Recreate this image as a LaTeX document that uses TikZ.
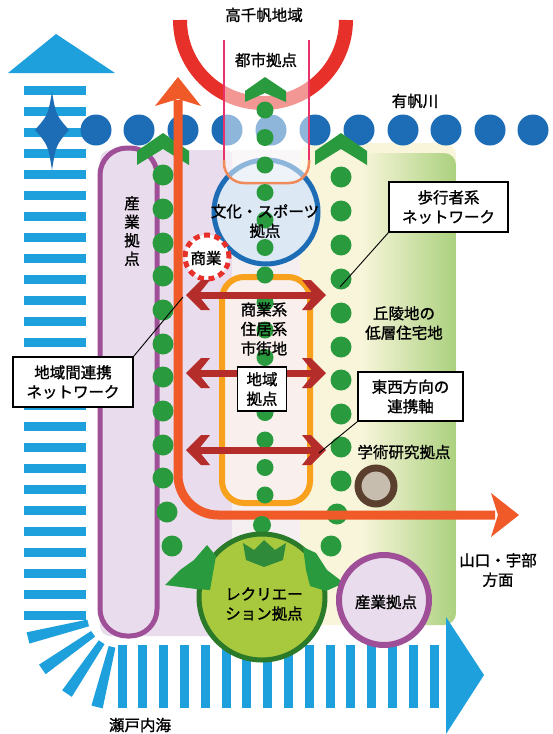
\documentclass[tikz,border=0pt]{standalone}
\usepackage{fontspec}
\setmainfont{Noto Sans CJK JP}
\newfontfamily\jpbold{Noto Sans CJK JP}[FakeBold=1.3]
\usetikzlibrary{calc}
\definecolor{sblue}{HTML}{1EA0DC}
\definecolor{dblue}{HTML}{1C6DB6}
\definecolor{rred}{HTML}{E8302A}
\definecolor{oline}{HTML}{F05A28}
\definecolor{orect}{HTML}{F7A11D}
\definecolor{ofill}{HTML}{F9EFEC}
\definecolor{dred}{HTML}{B52D2A}
\definecolor{gdot}{HTML}{2A9A3E}
\definecolor{gdark}{HTML}{2F8A3A}
\definecolor{lav}{HTML}{E9DCEC}
\definecolor{cpale}{HTML}{F6EFF1}
\definecolor{purp}{HTML}{9E4F98}
\definecolor{pyel}{HTML}{F8F5DA}
\definecolor{lgreen}{HTML}{ABD17E}
\definecolor{recf}{HTML}{A8C93E}
\definecolor{recs}{HTML}{2A7A2A}
\definecolor{lblue}{HTML}{DCE8F4}
\definecolor{pinkl}{HTML}{E8336A}
\definecolor{obot}{HTML}{F08A5A}
\definecolor{brn}{HTML}{5A3F2E}
\definecolor{brnf}{HTML}{C7BDAE}
\newcommand\lblfont{\jpbold\fontsize{15.5}{19.5}\selectfont}
\begin{document}
\begin{tikzpicture}[x=1pt,y=-1pt,
  lbl/.style={font=\lblfont, align=center, inner sep=0pt, text=black},
  callout/.style={draw=black, line width=1.2pt, fill=white, font=\lblfont, align=center, inner sep=0pt},
  leader/.style={draw=black, line width=0.9pt}]
\useasboundingbox (0,0) rectangle (552,734);
\fill[white] (0,0) rectangle (552,734);

% background regions
\fill[lav, rounded corners=10pt] (100,150) rectangle (235,636);
\fill[cpale] (232,150) rectangle (305,560);
\fill[pyel, rounded corners=12pt] (300,143) rectangle (456,625);
\shade[left color=pyel, right color=lgreen, rounded corners=12pt] (362,153) rectangle (456,625);

% blue sea arrow
\fill[sblue] (8,73) -- (115,73) -- (56,34) -- cycle;
\foreach \k in {0,...,25} \fill[sblue] (24,{85.5+21*\k}) rectangle (86,{94.5+21*\k});
\begin{scope}[shift={(120,615)}]
  \foreach \a in {166,145,124,104}
    \fill[sblue] ({\a-6}:33) -- ({\a-3.5}:95) -- ({\a+3.5}:95) -- ({\a+6}:33) -- cycle;
\end{scope}
\foreach \k in {0,...,15} \fill[sblue] ({117.5+20.8*\k},645) rectangle ({126.5+20.8*\k},708);
\fill[sblue] (446,617) -- (484,675) -- (446,734) -- cycle;

% river dots
\fill[dblue] (52,92) .. controls (56,115) .. (69,130) .. controls (56,145) .. (52,170) .. controls (48,145) .. (35,130) .. controls (48,115) .. (52,92) -- cycle;
\foreach \x in {96,139,183,227,271,315,359,403,446,490,533} \fill[dblue] (\x,130) circle[radius=15.5];

% red arc
\draw[rred, line width=14pt] (346,20) arc[start angle=0, end angle=180, radius=83];

% left industrial
\node[draw=purp, line width=5pt, fill=lav, rounded corners=27pt, minimum width=57pt, minimum height=488pt, inner sep=0pt] (sangyoL) at (128.5,392) {};
\node[lbl, font=\lblfont\linespread{0.95}\selectfont] (sangyoLt) at (132,231) {産\\業\\拠\\点};

% culture circle
\node[circle, draw=dblue, line width=5pt, fill=lblue, minimum size=104pt, inner sep=0pt] (bunka) at (266,212) {};

% city overlay
\fill[white, opacity=0.5] (224,40) -- (224,163) arc[start angle=180, end angle=90, radius=20] -- (289,183) arc[start angle=90, end angle=0, radius=20] -- (309,40) -- cycle;
\draw[pinkl, line width=1.5pt] (224,40) -- (224,166);
\draw[pinkl, line width=1.5pt] (309,40) -- (309,166);
\draw[obot, line width=2.5pt] (224,160) -- (224,163) arc[start angle=180, end angle=90, radius=20] -- (289,183) arc[start angle=90, end angle=0, radius=20] -- (309,160);

% orange urban rect
\draw[orect, line width=6pt, fill=ofill, rounded corners=22pt] (222,277) rectangle (310,503);

% commerce dashed
\node[circle, draw=rred, line width=5pt, dash pattern=on 6pt off 4.5pt, fill=white, minimum size=44pt, inner sep=0pt] (shogyo) at (207,257) {};

% green dots
\foreach \y in {175,209,243,276,310,344,377,411,445,478} \fill[gdot] (163,\y) circle[radius=10.5];
\fill[gdot] (167,512) circle[radius=10.5];
\fill[gdot] (172,546) circle[radius=10.5];
\foreach \y in {177,211,245,279,313,347,380,414,447,481} \fill[gdot] (341,\y) circle[radius=10.5];
\fill[gdot] (337,514) circle[radius=10.5];
\fill[gdot] (331,546) circle[radius=10.5];
\foreach \k in {0,...,14} \fill[gdot] (265,{110+27.5*\k}) circle[radius=8.5];
\fill[gdot] (137,165) -- (137,151) -- (163,133) -- (189,151) -- (189,165) -- (163,149) -- cycle;
\fill[gdot] (315,165) -- (315,151) -- (341,133) -- (367,151) -- (367,165) -- (341,149) -- cycle;
\fill[gdot] (245,102) -- (245,91) -- (265,77) -- (286,91) -- (286,102) -- (265,93) -- cycle;

% orange L arrow
\draw[oline, line width=9pt, rounded corners=40pt] (178,100) -- (178,515) -- (495,515);
\fill[oline] (178,77) -- (201,106) -- (178,99) -- (155,106) -- cycle;
\fill[oline] (519,515) -- (491,493) -- (498,515) -- (491,537) -- cycle;

% east-west arrows
\foreach \y in {295,373,450} {
  \draw[dred, line width=7pt] (196,\y) -- (316,\y);
  \fill[dred] (186,\y) -- (201,{\y-15}) -- (210,{\y-15}) -- (198,\y) -- (210,{\y+15}) -- (201,{\y+15}) -- cycle;
  \fill[dred] (326,\y) -- (311,{\y-15}) -- (302,{\y-15}) -- (314,\y) -- (302,{\y+15}) -- (311,{\y+15}) -- cycle;
}

% recreation circle
\fill[gdot] (262,525) circle[radius=9];
\node[circle, draw=recs, line width=5pt, fill=recf, minimum size=126pt, inner sep=0pt] (rec) at (262,597) {};
\fill[gdark] (243,543) -- (254,550) -- (264,540) -- (275,550) -- (286,543) -- (283,560) -- (264,567) -- (246,560) -- cycle;
\fill[gdot] (207,545) -- (216,556) -- (210,590) -- (196,589) -- (165,585) -- (180,570) -- (194,560) -- cycle;
\fill[gdot] (303,547) -- (316,553) -- (327,570) -- (344,583) -- (326,591) -- (310,586) -- (306,570) -- cycle;
\node[lbl] (rect) at (264,604) {レクリエー\\ション拠点};

% industrial circle right
\node[circle, draw=purp, line width=6pt, fill=lav, minimum size=90pt, inner sep=0pt] (sangyoR) at (384,600) {};
\node[lbl] (sangyoRt) at (386,602) {産業拠点};

% academic
\node[circle, draw=brn, line width=7pt, fill=brnf, minimum size=36pt, inner sep=0pt] (gaku) at (376,486) {};

% labels
\node[lbl] (takachiho) at (264,15) {高千帆地域};
\node[lbl] (toshi) at (266,60) {都市拠点};
\node[lbl] (ariho) at (415,101) {有帆川};
\node[lbl] (bunkat) at (265,221) {文化・スポーツ\\拠点};
\node[lbl] (shogyot) at (206,258) {商業};
\node[lbl] (shigai) at (264,329) {商業系\\住居系\\市街地};
\node[callout, minimum width=49pt, minimum height=44pt] (chiiki) at (262,389) {地域\\拠点};
\node[lbl] (kyuryo) at (404,323) {丘陵地の\\低層住宅地};
\node[lbl] (gakujutsu) at (404,452) {学術研究拠点};
\node[lbl] (yamaguchi) at (498,570) {山口・宇部\\方面};
\node[lbl] (seto) at (140,725) {瀬戸内海};

% callouts
\node[callout, minimum width=119pt, minimum height=50pt] (hoko) at (448.5,207) {歩行者系\\ネットワーク};
\node[callout, minimum width=120pt, minimum height=50pt] (renkei) at (73,382) {地域間連携\\ネットワーク};
\node[callout, minimum width=105pt, minimum height=49pt] (tozai) at (410.5,396.5) {東西方向の\\連携軸};
\coordinate (p1) at (340,287);
\coordinate (p2) at (183,297);
\coordinate (p3) at (319,453);
\draw[leader] (hoko.south west) -- (p1);
\draw[leader] (renkei.north east) -- (p2);
\draw[leader] (tozai.south west) -- (p3);
\end{tikzpicture}
\end{document}
